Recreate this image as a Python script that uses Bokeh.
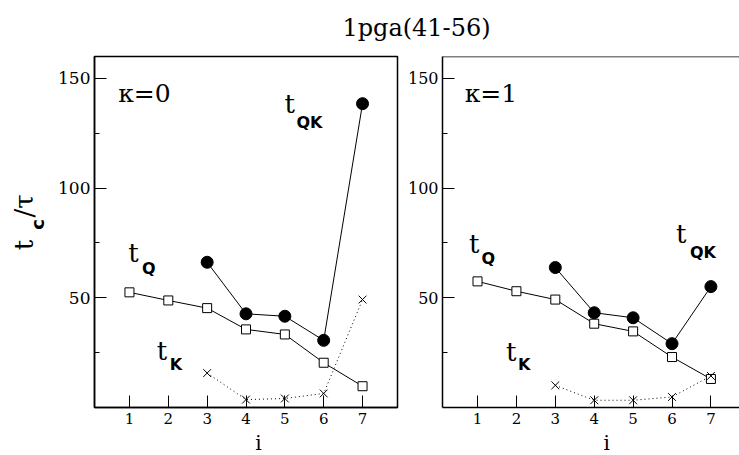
import math
from bokeh.plotting import figure
from bokeh.models import Range1d, FixedTicker, Label, Span
from bokeh.layouts import column, row
from bokeh.embed import file_html
from bokeh.resources import INLINE

# ---------------- data ----------------
title_text = "1pga(41-56)"
idx = [1, 2, 3, 4, 5, 6, 7]
i_qk = [3, 4, 5, 6, 7]
i_k = [3, 4, 5, 6, 7]

tq_k0 = [52.5, 48.8, 45.3, 35.6, 33.3, 20.4, 9.7]
tqk_k0 = [66.2, 42.7, 41.6, 30.6, 138.5]
tk_k0 = [15.7, 3.6, 4.1, 6.4, 49.2]

tq_k1 = [57.5, 53.0, 49.2, 38.2, 34.7, 23.0, 13.0]
tqk_k1 = [63.8, 43.2, 40.9, 29.1, 55.1]
tk_k1 = [10.1, 3.3, 3.3, 4.8, 14.4]

x_ticks = [1, 2, 3, 4, 5, 6, 7]
y_ticks = [50, 100, 150]
y_minor = [25, 75, 125]
kappa_labels = ["\u03ba=0", "\u03ba=1"]
x_title = "i"

SERIF = "DejaVu Serif"
SANS = "DejaVu Sans"

ROW_H = 377
X0, X1 = 0.1, 7.9
Y0, Y1 = 0, 160
FRAME_H = 351
PX_PER_Y = FRAME_H / (Y1 - Y0)
BASE_FIX = 0.37  # baseline correction (fraction of font size)


def lab(p, x, y, text, fs=26, font=SERIF, style="normal", align="left", rotated=False, px_per_unit=1.0):
    shift = BASE_FIX * fs / px_per_unit
    if rotated:
        x = x - shift
    else:
        y = y + shift
    p.add_layout(Label(x=x, y=y, text=text, text_font=font, text_font_size=f"{fs}px",
                       text_font_style=style, text_color="black", text_align=align,
                       text_baseline="alphabetic", angle=(math.pi / 2 if rotated else 0.0)))


def plab(p, x, y, text, fs=26, **kw):
    lab(p, x, y, text, fs=fs, px_per_unit=PX_PER_Y, **kw)


def strip(width, height):
    s = figure(width=width, height=height, x_range=Range1d(0, width), y_range=Range1d(0, height),
               toolbar_location=None, output_backend="svg", min_border=0,
               x_axis_location=None, y_axis_location=None)
    s.grid.visible = False
    s.outline_line_color = None
    return s


def panel(width, bl, br, x_end, tq, tqk, tk, tick_size, outline):
    p = figure(width=width, height=ROW_H, x_range=Range1d(X0, x_end), y_range=Range1d(Y0, Y1),
               toolbar_location=None, output_backend="svg",
               min_border_left=bl, min_border_right=br, min_border_top=2, min_border_bottom=24)
    p.background_fill_color = "white"
    p.border_fill_color = "white"
    p.grid.visible = False
    if outline:
        p.outline_line_color = "black"
        p.outline_line_width = 1.5
        p.outline_line_alpha = 1.0
    else:
        p.outline_line_color = None
        p.add_layout(Span(location=Y1, dimension="width", line_color="black", line_width=1.5))

    p.xaxis.ticker = FixedTicker(ticks=x_ticks, minor_ticks=[])
    p.yaxis.ticker = FixedTicker(ticks=y_ticks, minor_ticks=y_minor)
    for ax in (p.xaxis, p.yaxis):
        ax.axis_line_width = 1.5
        ax.axis_line_color = "black"
        ax.major_tick_in = 12
        ax.major_tick_out = 0
        ax.major_tick_line_color = "black"
        ax.major_tick_line_width = 1
        ax.minor_tick_line_color = "black"
        ax.major_label_text_font = SERIF
        ax.major_label_text_color = "black"
    p.xaxis.minor_tick_in = 0
    p.xaxis.minor_tick_out = 0
    p.yaxis.minor_tick_in = 5
    p.yaxis.minor_tick_out = 0
    p.xaxis.major_label_text_font_size = "15px"
    p.yaxis.major_label_text_font_size = tick_size
    p.xaxis.major_label_standoff = 5
    p.yaxis.major_label_standoff = 4

    p.line(idx, tq, line_color="black", line_width=1)
    p.line(i_qk, tqk, line_color="black", line_width=1)
    p.line(i_k, tk, line_color="black", line_width=1, line_dash="1 3")
    p.scatter(idx, tq, marker="square", size=9, fill_color="white", line_color="black", line_width=1)
    p.scatter(i_qk, tqk, marker="circle", size=12, fill_color="black", line_color="black")
    p.scatter(i_k, tk, marker="x", size=11, line_color="black", line_width=1)
    return p


# y-axis title strip (rotated t_c / tau)
py = strip(50, ROW_H)
lab(py, 33, 169, "t", fs=26, rotated=True)
lab(py, 44, 191, "c", fs=18, font=SANS, style="bold", rotated=True)
lab(py, 33, 204, "/\u03c4", fs=26, rotated=True)

# left panel (kappa = 0)
P1_W, P1_BL, P1_BR = 350, 44, 3
p1 = panel(P1_W, P1_BL, P1_BR, X1, tq_k0, tqk_k0, tk_k0, "17px", True)
plab(p1, 0.71, 138.8, kappa_labels[0], fs=25)
plab(p1, 4.99, 133.8, "t")
plab(p1, 5.30, 127.4, "QK", fs=16, font=SANS, style="bold")
plab(p1, 0.97, 66.2, "t")
plab(p1, 1.32, 60.6, "Q", fs=16, font=SANS, style="bold")
plab(p1, 1.70, 21.5, "t")
plab(p1, 2.04, 17.0, "K", fs=16, font=SANS, style="bold")

# right panel (kappa = 1)
P2_W, P2_BL, P2_BR = 339, 42, 0
X1_R = 7.735
p2 = panel(P2_W, P2_BL, P2_BR, X1_R, tq_k1, tqk_k1, tk_k1, "16px", False)
plab(p2, 0.67, 138.8, kappa_labels[1], fs=25)
plab(p2, 6.10, 74.7, "t")
plab(p2, 6.46, 67.9, "QK", fs=16, font=SANS, style="bold")
plab(p2, 0.78, 70.3, "t")
plab(p2, 1.10, 65.1, "Q", fs=16, font=SANS, style="bold")
plab(p2, 1.73, 21.0, "t")
plab(p2, 2.04, 17.0, "K", fs=16, font=SANS, style="bold")

# title strip
TOTAL_W = 50 + P1_W + P2_W
pt = strip(TOTAL_W, 54)
lab(pt, 416, 18, title_text, fs=24, align="center")

# bottom strip with the x titles, placed at i = 4.32 through each panel's scale
pb = strip(TOTAL_W, 24)
xi = 4.32
f1_left = 50 + P1_BL
f1_w = P1_W - P1_BL - P1_BR
f2_left = 50 + P1_W + P2_BL
f2_w = P2_W - P2_BL - P2_BR
lab(pb, f1_left + (xi - X0) / (X1 - X0) * f1_w, 5, x_title, fs=20, align="center")
lab(pb, f2_left + (xi - X0) / (X1_R - X0) * f2_w, 5, x_title, fs=20, align="center")

layout = column(pt, row(py, p1, p2, spacing=0), pb, spacing=0)
open("out.html", "w").write(file_html(layout, INLINE))
